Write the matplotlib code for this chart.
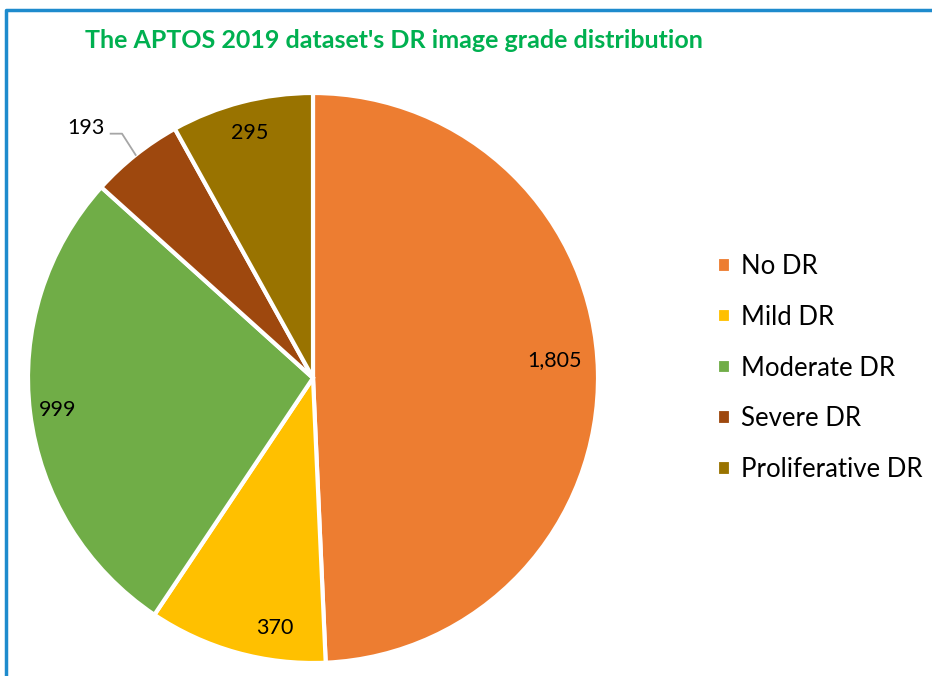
import numpy as np
import matplotlib
matplotlib.use('Agg')
from matplotlib import pyplot as plt
from matplotlib.lines import Line2D

grades = ['No DR', 'Mild DR', 'Moderate DR', 'Severe DR', 'Proliferative DR']
counts = [1805, 370, 999, 193, 295]
colours = ['#ED7D31', '#FFC000', '#70AD47', '#9E480E', '#997300']

# label placement per wedge: (distance from centre, angle shift in degrees)
label_pos = [(0.85, 3), (0.887, 7), (0.902, 0), (1.184, 3.7), (0.888, 0)]

plt.rcParams['font.family'] = ['Lato', 'DejaVu Sans']

W, H = 932, 676
fig = plt.figure(figsize=(W / 100, H / 100), dpi=100)

# blue frame on the left and top edges
fig.add_artist(Line2D([6 / W, 6 / W, 1], [0, 1 - 10 / H, 1 - 10 / H],
                      color='#1E8BCD', linewidth=2.5, transform=fig.transFigure))

fig.text(85 / W, 1 - 40 / H, "The APTOS 2019 dataset's DR image grade distribution",
         color='#00B050', fontsize=18, fontweight='bold', va='center', ha='left')

# pie centre (313, 378) px, radius 285 px
cx, cy, r = 313, 378, 285
ax = fig.add_axes([(cx - r) / W, (H - cy - r) / H, 2 * r / W, 2 * r / H])
wedges, _ = ax.pie(counts, colors=colours, startangle=90, counterclock=False,
                   wedgeprops=dict(edgecolor='white', linewidth=3))
ax.set_xlim(-1, 1)
ax.set_ylim(-1, 1)
ax.set_aspect('equal')
ax.axis('off')

# data labels
for w, n, (d, shift) in zip(wedges, counts, label_pos):
    mid = (w.theta1 + w.theta2) / 2
    a = np.deg2rad(mid + shift)
    lx, ly = d * np.cos(a), d * np.sin(a)
    ax.text(lx, ly, f'{n:,}', fontsize=15.5, ha='center', va='center')
    if d > 1:
        # leader line to the outer edge of the wedge
        ex, ey = np.cos(np.deg2rad(mid)), np.sin(np.deg2rad(mid))
        ax.plot([lx + 0.085, lx + 0.125, ex], [ly - 0.02, ly - 0.02, ey],
                color='#A6A6A6', linewidth=1.3, clip_on=False)

fig.legend(wedges, grades, loc='center left', bbox_to_anchor=(707 / W, 1 - 368 / H),
           frameon=False, fontsize=18.5, handlelength=0.55, handleheight=0.55,
           handletextpad=0.38, labelspacing=1.0, borderaxespad=0)

fig.savefig('out.png', dpi=100, facecolor='white')
